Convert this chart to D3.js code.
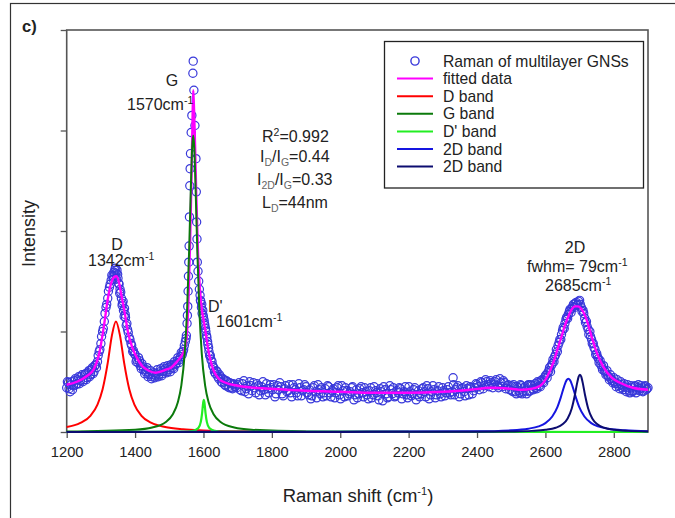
<!DOCTYPE html>
<html><head><meta charset="utf-8">
<script src="https://cdn.jsdelivr.net/npm/d3@7"></script>
<style>body{margin:0;background:#fff}svg{display:block;font-family:"Liberation Sans",Arial,sans-serif}</style>
</head><body><svg id="c" width="675" height="518"></svg>
<script>
// ---------- data ----------
const xTicks=[1200,1400,1600,1800,2000,2200,2400,2600,2800];
const yTicks=[0,100,200,300,400];

// measured Raman spectrum: [shift (cm-1), intensity (a.u.)]
const ramanPoints=[
[1200,44],[1205,49],[1210,40],[1215,50],[1220,46],[1225,53],[1230,48],[1235,55],[1240,51],[1245,57],
[1250,52],[1255,58],[1260,54],[1265,61],[1270,57],[1275,64],[1280,60],[1285,67],[1290,70],[1295,80],
[1300,88],[1305,100],[1310,110],[1315,124],[1320,133],[1325,144],[1330,151],[1335,155],[1338,159],[1341,161],
[1344,158],[1347,161],[1350,153],[1353,147],[1356,142],[1360,133],[1363,128],[1366,121],[1369,123],[1372,114],
[1376,108],[1380,99],[1385,92],[1390,86],[1395,81],[1400,77],[1405,72],[1410,74],[1415,66],[1420,68],
[1425,62],[1430,60],[1435,64],[1440,57],[1445,61],[1450,55],[1455,59],[1460,56],[1465,62],[1470,57],
[1475,63],[1480,58],[1485,65],[1490,60],[1495,66],[1500,62],[1505,67],[1510,64],[1515,70],[1520,68],
[1525,74],[1530,72],[1535,79],[1540,80],[1544,86],[1547,90],[1550,96],[1552,108],[1554,125],[1555,140],
[1556,155],[1557,169],[1558,185],[1559,214],[1560,245],[1561,262],[1562,277],[1564,298],[1566,315],[1569,357],
[1570,369],[1572,340],[1575,305],[1578,272],[1579,239],[1580,209],[1581,192],[1582,169],[1584,160],[1586,150],
[1588,142],[1590,136],[1592,130],[1594,124],[1596,118],[1598,121],[1600,114],[1602,111],[1604,106],[1607,100],
[1610,94],[1613,87],[1616,80],[1620,76],[1625,70],[1630,64],[1635,58],[1640,60],[1645,53],[1650,55],
[1655,49],[1660,52],[1665,46],[1670,50],[1675,44],[1680,48],[1685,43],[1690,47],
[1697,44],[1704,49],[1711,41],[1718,51],[1725,43],[1732,38],[1739,46],[1746,49],[1753,39],[1760,46],
[1767,41],[1774,50],[1781,37],[1788,43],[1795,47],[1802,42],[1809,35],[1816,46],[1823,49],[1830,38],
[1837,43],[1844,40],[1851,47],[1858,35],[1865,44],[1872,39],[1879,48],[1886,36],[1893,42],[1900,45],
[1907,37],[1914,33],[1921,44],[1928,40],[1935,47],[1942,38],[1949,35],[1956,43],[1963,46],[1970,39],
[1977,41],[1984,34],[1991,44],[1998,37],[2005,46],[2012,35],[2019,41],[2026,38],[2033,44],[2040,32],
[2047,42],[2054,38],[2061,45],[2068,35],[2075,40],[2082,33],[2089,44],[2096,37],[2103,41],[2110,36],
[2117,43],[2124,31],[2131,42],[2138,34],[2145,46],[2152,38],[2159,35],[2166,41],[2173,44],[2180,33],
[2187,40],[2194,37],[2201,45],[2208,36],[2215,42],[2222,32],[2229,41],[2236,38],[2243,44],[2250,35],
[2257,43],[2264,37],[2271,46],[2278,34],[2285,41],[2292,38],[2299,44],[2306,36],[2313,42],[2320,39],
[2327,40],[2330,54],[2331,47],[2334,37],[2341,44],[2348,35],[2355,43],[2362,40],[2369,46],[2376,37],
[2383,44],[2390,41],[2397,48],[2404,45],[2411,50],[2418,43],[2425,52],[2432,47],[2439,51],[2446,44],
[2453,50],[2460,46],[2467,53],[2474,45],[2481,49],[2488,46],[2495,42],
[2500,46],[2505,40],[2510,45],[2515,38],[2520,44],[2525,39],[2530,46],[2535,40],[2540,45],[2545,38],
[2550,47],[2555,41],[2560,46],[2565,42],[2570,48],[2575,43],[2580,49],[2585,45],[2590,52],[2595,49],
[2600,56],[2605,54],[2610,61],[2615,60],[2620,68],[2625,70],[2630,77],[2635,80],[2640,89],[2645,92],
[2650,101],[2655,103],[2660,112],[2665,113],[2670,120],[2675,119],[2680,125],[2685,124],[2690,129],[2695,127],
[2700,131],[2705,124],[2710,121],[2715,113],[2720,110],[2725,102],[2730,100],[2735,92],[2740,88],[2745,82],
[2750,78],[2755,73],[2760,71],[2765,65],[2770,66],[2775,60],[2780,61],[2785,55],[2790,57],[2795,51],
[2800,54],[2805,48],[2810,52],[2815,46],[2820,50],[2825,44],[2830,48],[2835,42],[2840,47],[2845,41],
[2850,46],[2855,40],[2860,45],[2865,39],[2870,44],[2875,41],[2880,46],[2885,40],[2890,45],[2895,42],[2900,44],
[1202,50],[1207,43],[1212,47],[1217,42],[1222,51],[1227,47],[1232,52],[1237,48],[1242,55],[1247,50],
[1252,57],[1257,52],[1262,59],[1267,55],[1272,62],[1277,58],[1282,66],[1287,64],[1292,76],[1297,82],
[1302,95],[1307,103],[1312,118],[1317,127],[1322,140],[1327,147],[1332,156],[1336,152],[1339,156],[1342,163],
[1345,152],[1349,157],[1352,148],[1355,138],[1358,139],[1362,126],[1365,130],[1368,115],[1371,117],[1374,106],
[1378,102],[1383,94],[1388,88],[1393,80],[1398,78],[1403,70],[1408,69],[1413,71],[1418,63],[1423,65],
[1428,58],[1433,62],[1438,55],[1443,58],[1448,53],[1453,57],[1458,54],[1463,58],[1468,55],[1473,60],
[1478,56],[1483,61],[1488,63],[1493,59],[1498,64],[1503,60],[1508,66],[1513,63],[1518,67],[1523,71],
[1528,69],[1533,75],[1538,77],[1542,82],[1549,93],[1553,116],
[1591,131],[1595,127],[1599,116],[1603,108],[1606,103],[1609,96],[1612,90],[1615,84],[1618,76],[1622,72],
[1627,66],[1632,60],[1637,61],[1642,55],[1647,57],[1652,50],[1657,53],[1662,47],[1667,51],[1672,45],
[1677,49],[1682,44],[1687,48],[1693,45],
[1700,47],[1707,42],[1714,48],[1721,40],[1728,46],[1735,50],[1742,41],[1749,44],[1756,48],[1763,37],
[1770,45],[1777,42],[1784,48],[1791,39],[1798,44],[1805,47],[1812,38],[1819,42],[1826,45],[1833,36],
[1840,46],[1847,41],[1854,39],[1861,47],[1868,42],[1875,36],[1882,44],[1889,41],[1896,47],[1903,39],
[1910,42],[1917,36],[1924,46],[1931,34],[1938,42],[1945,44],[1952,39],[1959,36],[1966,45],[1973,35],
[1980,43],[1987,39],[1994,46],[2001,33],[2008,41],[2015,44],[2022,36],[2029,40],[2036,45],[2043,37],
[2050,34],[2057,43],[2064,39],[2071,44],[2078,37],[2085,41],[2092,34],[2099,45],[2106,39],[2113,32],
[2120,40],[2127,45],[2134,38],[2141,35],[2148,42],[2155,44],[2162,36],[2169,39],[2176,43],[2183,38],
[2190,45],[2197,34],[2204,40],[2211,38],[2218,44],[2225,37],[2232,35],[2239,43],[2246,40],[2253,46],
[2260,33],[2267,40],[2274,42],[2281,37],[2288,45],[2295,35],[2302,41],[2309,39],[2316,45],[2323,37],
[2337,42],[2344,46],[2351,38],[2358,44],[2365,36],[2372,43],[2379,45],[2386,38],[2393,44],[2400,47],
[2407,42],[2414,49],[2421,46],[2428,50],[2435,45],[2442,49],[2449,47],[2456,52],[2463,44],[2470,49],
[2477,51],[2484,43],[2491,47],
[2502,41],[2507,47],[2512,40],[2517,45],[2522,41],[2527,47],[2532,38],[2537,44],[2542,41],[2547,46],
[2552,40],[2557,47],[2562,43],[2567,46],[2572,44],[2577,50],[2582,46],[2587,51],[2592,50],[2597,54],
[2602,57],[2607,59],[2612,64],[2617,66],[2622,72],[2627,75],[2632,82],[2637,86],[2642,92],[2647,97],
[2652,104],[2657,108],[2662,114],[2667,117],[2672,122],[2677,123],[2682,127],[2687,128],[2692,126],[2697,130],
[2702,127],[2707,120],[2712,118],[2717,109],[2722,105],[2727,97],[2732,95],[2737,88],[2742,84],[2747,77],
[2752,75],[2757,69],[2762,67],[2767,62],[2772,61],[2777,57],[2782,56],[2787,52],[2792,53],[2797,49],
[2802,50],[2807,45],[2812,48],[2817,43],[2822,47],[2827,42],[2832,45],[2837,40],[2842,44],[2847,39],
[2852,44],[2857,41],[2862,46],[2867,42],[2872,47],[2877,43],[2882,44],[2887,41],[2892,46],[2897,43]
];

// fitted data (sum)
const fitShift=[1200,1230,1260,1280,1295,1310,1320,1330,1338,1345,1352,1360,1370,1380,1392,1405,1420,1440,1460,1475,
1490,1505,1520,1532,1542,1550,1556,1561,1565,1568,1570,1572,1575,1579,1584,1590,1596,1601,1606,1612,
1620,1630,1645,1665,1700,1750,1800,1900,2000,2100,2200,2300,2380,2440,2500,2530,2560,2585,2605,2623,
2635,2647,2657,2667,2677,2686,2696,2706,2720,2735,2750,2769,2794,2818,2856,2900];
const fitIntensity=[47,50,56,63,78,108,132,148,154,155,150,136,118,98,84,74,66,61,59,60,
62,64,69,74,80,92,130,190,255,310,340,325,290,235,178,140,120,110,100,86,
72,61,53,49,46,44,43,41,40,39,39,40,42,44,43,42,43,46,55,69,
82,95,106,115,122,125,125,122,112,95,79,65,54,49,44,42];

// D band
const dShift=[1200,1240,1270,1290,1305,1320,1332,1344,1356,1368,1383,1398,1418,1448,1488,1540,1600,1700,1900];
const dIntensity=[4.9,9.0,16.4,27.3,42.6,68.8,95.7,110,95.7,68.8,42.6,27.3,16.4,9.0,4.9,2.7,1.6,0.8,0.3];
// G band
const gShift=[1200,1400,1450,1490,1510,1525,1535,1545,1552,1558,1563,1567,1570,1573,1577,1582,1588,1595,1605,1615,1630,1650,1690,1740,1900,2200];
const gIntensity=[0.5,2.3,4.5,10.0,17.4,29.5,45.8,78,120.9,179.9,242,283.6,295,283.6,242,179.9,120.9,78,45.8,29.5,17.4,10.0,4.5,2.3,0.6,0.2];
// D' band
const dpShift=[1200,1540,1570,1585,1592,1596,1599,1601,1603,1606,1610,1617,1632,1662,2900];
const dpIntensity=[0,0.3,1.2,4.0,9.8,18.9,28.8,32,28.8,18.9,9.8,4.0,1.2,0.3,0];
// 2D band (first component)
const b1Shift=[1200,2000,2400,2500,2550,2580,2600,2620,2635,2645,2655,2662,2667,2672,2679,2689,2699,2714,2734,2754,2784,2834,2900];
const b1Intensity=[0.1,0.25,0.66,1.66,3.3,5.6,8.8,15.4,24.8,34.5,45.7,51.6,53,51.6,45.7,34.5,24.8,15.4,8.8,5.6,3.3,1.66,0.86];
// 2D band (second component)
const b2Shift=[1200,2000,2400,2500,2560,2600,2630,2650,2665,2677,2686,2693,2697,2701,2705,2709,2716,2725,2737,2752,2772,2802,2842,2900];
const b2Intensity=[0.05,0.12,0.25,0.56,1.12,2.15,4.2,7.6,13.4,23.4,36.5,49.1,54.8,57,54.8,49.1,36.5,23.4,13.4,7.6,4.2,2.15,1.12,0.57];

const legendLabels=["Raman of multilayer GNSs","fitted data","D band","G band","D' band","2D band","2D band"];
const seriesColors=["#3838da","#ff00ff","#ff0000","#0b7a0b","#22ee22","#1515e0","#0c0c70"];

// ---------- drawing ----------
const svg=d3.select("#c");
const x=d3.scaleLinear().domain([1200,2900]).range([66.7,648]);
const y=d3.scaleLinear().domain([0,400]).range([432,30]);
const ink="#222";

// outer figure frame
svg.append("rect").attr("x",10.5).attr("y",3.5).attr("width",720).attr("height",620)
  .attr("fill","none").attr("stroke","#333").attr("stroke-width",1.2);

svg.append("text").attr("x",22).attr("y",32).attr("font-size",16.5).attr("font-weight","bold")
  .attr("fill",ink).text("c)");

// plot frame (drawn under the curves)
svg.append("rect").attr("x",66.7).attr("y",30).attr("width",648-66.7).attr("height",402)
  .attr("fill","none").attr("stroke","#555").attr("stroke-width",1.6);

// axes
const gx=svg.append("g").attr("transform","translate(0,432)")
  .call(d3.axisBottom(x).tickValues(xTicks).tickFormat(d3.format("d")).tickSize(6).tickSizeOuter(0).tickPadding(9));
gx.select(".domain").remove();
gx.selectAll(".tick line").attr("stroke","#555").attr("stroke-width",1.3);
gx.selectAll(".tick text").attr("font-size",14.7).attr("fill",ink).attr("font-family","Liberation Sans, Arial, sans-serif");

const gy=svg.append("g").attr("transform","translate(66.7,0)")
  .call(d3.axisLeft(y).tickValues(yTicks).tickFormat("").tickSize(6).tickSizeOuter(0));
gy.select(".domain").remove();
gy.selectAll(".tick line").attr("stroke","#555").attr("stroke-width",1.3);

// data circles
svg.append("g").selectAll("circle").data(ramanPoints).join("circle")
  .attr("cx",d=>x(d[0])).attr("cy",d=>y(d[1])).attr("r",4.1)
  .attr("fill","none").attr("stroke",seriesColors[0]).attr("stroke-width",1.2);

function drawLine(xs,ys,color,w){
  const pts=xs.map((v,i)=>[v,ys[i]]);
  svg.append("path").datum(pts)
    .attr("d",d3.line().x(d=>x(d[0])).y(d=>y(d[1])).curve(d3.curveMonotoneX))
    .attr("fill","none").attr("stroke",color).attr("stroke-width",w).attr("stroke-linejoin","round");
}
drawLine(fitShift,fitIntensity,seriesColors[1],2.4);
drawLine(dShift,dIntensity,seriesColors[2],2);
drawLine(gShift,gIntensity,seriesColors[3],2);
drawLine(dpShift,dpIntensity,seriesColors[4],2.2);
drawLine(b1Shift,b1Intensity,seriesColors[5],2);
drawLine(b2Shift,b2Intensity,seriesColors[6],2);

// axis titles
const xt=svg.append("text").attr("x",358).attr("y",502).attr("text-anchor","middle")
  .attr("font-size",18.5).attr("fill",ink);
xt.append("tspan").text("Raman shift (cm");
xt.append("tspan").attr("font-size",11).attr("dy",-7).text("-1");
xt.append("tspan").attr("dy",7).text(")");
svg.append("text").attr("transform","translate(35,233.5) rotate(-90)").attr("text-anchor","middle")
  .attr("font-size",18).attr("fill",ink).text("Intensity");

// rich text helper
function rich(xp,yp,parts,anchor,size){
  const t=svg.append("text").attr("x",xp).attr("y",yp).attr("font-size",size||16)
    .attr("fill",ink).attr("text-anchor",anchor||"start");
  let cur=0;
  parts.forEach(p=>{
    const s=p[1]||"n";
    const target= s==="sup"?-6: s==="sub"?4:0;
    const ts=t.append("tspan").attr("dy",target-cur).text(p[0]);
    if(s!=="n"){ts.attr("font-size",10.5); if(s==="sub") ts.attr("fill","#666");}
    cur=target;
  });
  return t;
}
rich(172,86,[["G"]],"middle");
rich(127,110,[["1570cm"],["-1","sup"]]);
rich(117,250,[["D"]],"middle");
rich(88,265.5,[["1342cm"],["-1","sup"]]);
rich(208,312,[["D'"]]);
rich(216,327,[["1601cm"],["-1","sup"]]);
rich(575,253,[["2D"]],"middle");
rich(527,272,[["fwhm= 79cm"],["-1","sup"]]);
rich(545,290.5,[["2685cm"],["-1","sup"]]);
rich(262,142,[["R"],["2","sup"],["=0.992"]]);
rich(260,162,[["I"],["D","sub"],["/I"],["G","sub"],["=0.44"]]);
rich(257,185,[["I"],["2D","sub"],["/I"],["G","sub"],["=0.33"]]);
rich(262,208,[["L"],["D","sub"],["=44nm"]]);

// legend
const lg=svg.append("g");
lg.append("rect").attr("x",384.5).attr("y",41.5).attr("width",259).attr("height",146.5)
  .attr("fill","#fff").attr("stroke","#222").attr("stroke-width",1.3);
legendLabels.forEach((lab,i)=>{
  const cy=61+i*17.6;
  if(i===0){
    lg.append("circle").attr("cx",415).attr("cy",cy).attr("r",4.1).attr("fill","none")
      .attr("stroke",seriesColors[0]).attr("stroke-width",1.4);
  } else {
    lg.append("line").attr("x1",397).attr("x2",433).attr("y1",cy).attr("y2",cy)
      .attr("stroke",seriesColors[i]).attr("stroke-width",2);
  }
  lg.append("text").attr("x",443).attr("y",cy+5.6).attr("font-size",15.7).attr("fill",ink).text(lab);
});
</script></body></html>
